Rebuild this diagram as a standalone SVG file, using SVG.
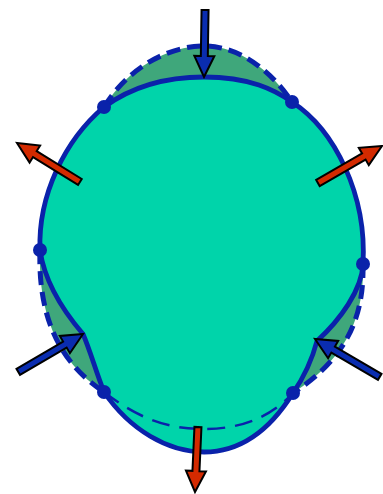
<svg xmlns="http://www.w3.org/2000/svg" width="383" height="494" viewBox="0 0 383 494">
<style>
.line{fill:none;stroke:#0a22aa;stroke-linejoin:round;stroke-linecap:butt}
.solid{stroke-width:4.8}
.dash{stroke-width:5;stroke-dasharray:14 7}
.thin{stroke-width:2.5;stroke-dasharray:18 10}
.dot{fill:#0a22aa}
.arr{stroke:#000;stroke-width:2;stroke-linejoin:miter}
.red{fill:#d42a00}
.blue{fill:#0a2db0}
</style>
<rect width="383" height="494" fill="#fff"/>
<g id="original-shape">
<path fill="#3fa77b" d="M104,107 C128,68 168,46 204,46 C240,46 272,72 292,102 C335,130 367,195 363,264 C364,310 352,355 293,393 C270,418 240,429 204,429 C170,429 140,420 104,392 C55,360 38,310 40,250 C38,195 65,140 104,107 Z"/>
</g>
<g id="deformed-shape">
<path fill="#00d4aa" d="M204,77 C250,77 275,90 292,102 C335,130 367,195 363,264 C362,290 340,320 317,341 C312,360 302,380 293,393 C270,430 240,452 204,452 C168,452 130,430 104,392 C96,372 90,350 83,334 C65,313 45,285 40,250 C38,195 65,140 104,107 C130,88 165,77 204,77 Z"/>
</g>
<g id="original-outline">
<path class="line thin" d="M104,392 C140,420 170,429 204,429 C240,429 270,418 293,393"/>
<path class="line dash" d="M104,107 C128,68 168,46 204,46 C240,46 272,72 292,102"/>
<path class="line dash" d="M363,264 C364,310 352,355 293,393"/>
<path class="line dash" d="M40,250 C38,310 55,360 104,392"/>
</g>
<g id="deformed-outline">
<path class="line solid" d="M204,77 C250,77 275,90 292,102 C335,130 367,195 363,264 C362,290 340,320 317,341 C312,360 302,380 293,393 C270,430 240,452 204,452 C168,452 130,430 104,392 C96,372 90,350 83,334 C65,313 45,285 40,250 C38,195 65,140 104,107 C130,88 165,77 204,77 Z"/>
</g>
<g id="points">
<circle class="dot" cx="104" cy="107" r="7"/>
<circle class="dot" cx="292" cy="102" r="7"/>
<circle class="dot" cx="40" cy="250" r="7"/>
<circle class="dot" cx="363" cy="264" r="7"/>
<circle class="dot" cx="104" cy="392" r="7"/>
<circle class="dot" cx="293" cy="393" r="7"/>
</g>
<g id="connectors">
<path class="arr blue" transform="translate(204,77) rotate(90.9)" d="M0,0 L-21,-10 L-21,-3.5 L-67,-3.5 L-67,3.5 L-21,3.5 L-21,10 Z"/>
<path class="arr red" transform="translate(17,143) rotate(211.8)" d="M0,0 L-21,-10 L-21,-3.5 L-74,-3.5 L-74,3.5 L-21,3.5 L-21,10 Z"/>
<path class="arr red" transform="translate(382,146) rotate(-30)" d="M0,0 L-21,-10 L-21,-3.5 L-74,-3.5 L-74,3.5 L-21,3.5 L-21,10 Z"/>
<path class="arr blue" transform="translate(83,334) rotate(-30.3)" d="M0,0 L-21,-10 L-21,-3.5 L-75,-3.5 L-75,3.5 L-21,3.5 L-21,10 Z"/>
<path class="arr blue" transform="translate(315,339) rotate(210.3)" d="M0,0 L-21,-10 L-21,-3.5 L-75,-3.5 L-75,3.5 L-21,3.5 L-21,10 Z"/>
<path class="arr red" transform="translate(195,492) rotate(92.6)" d="M0,0 L-21,-10 L-21,-3.5 L-65,-3.5 L-65,3.5 L-21,3.5 L-21,10 Z"/>
</g>
</svg>
